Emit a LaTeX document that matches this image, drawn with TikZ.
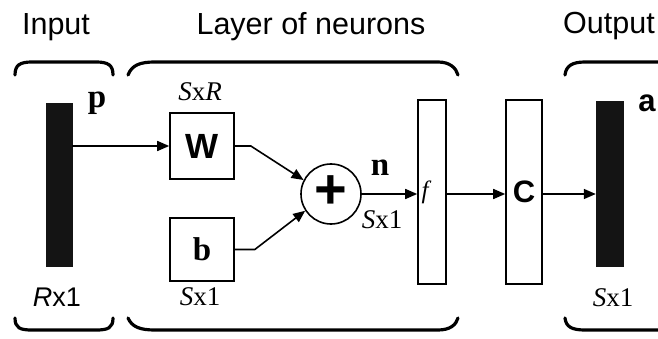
\documentclass[tikz,border=0pt]{standalone}
\usepackage{fontspec}
\setmainfont{Liberation Serif}
\newfontfamily\sansf{Liberation Sans}
\usetikzlibrary{arrows.meta}
\begin{document}
\begin{tikzpicture}[x=1pt,y=-1pt,
  box/.style={draw,line width=1.6pt,inner sep=0pt},
  bar/.style={fill=black!92,draw=black!92,inner sep=0pt},
  conn/.style={line width=1.6pt,-{Triangle[length=12pt,width=10pt]}},
  brk/.style={line width=3.2pt,line cap=round},
  title/.style={font=\sansf\fontsize{30.5}{34}\selectfont,inner sep=0pt},
  dimlab/.style={font=\fontsize{27}{30}\selectfont,inner sep=0pt},
  bold/.style={font=\bfseries\fontsize{33}{35}\selectfont,inner sep=0pt},
  boldsans/.style={font=\sansf\bfseries\fontsize{31}{33}\selectfont,inner sep=0pt}]
\useasboundingbox (0,0) rectangle (658,339);
\clip (0,0) rectangle (658,339);
% titles
\node[title] (tin) at (56,27) {Input};
\node[title] (tlay) at (311,27) {Layer of neurons};
\node[title,anchor=west] (tout) at (563,26) {Output};
% brackets
\draw[brk] (15,75) .. controls (15,65) and (20,62) .. (32,62) -- (96,62) .. controls (108,62) and (113,65) .. (113,75);
\draw[brk] (15,318) .. controls (15,328) and (20,330) .. (32,330) -- (96,330) .. controls (108,330) and (113,328) .. (113,318);
\draw[brk] (128,75) .. controls (132,65) and (140,62) .. (155,62) -- (438,62) .. controls (450,62) and (456,68) .. (458,75);
\draw[brk] (128,318) .. controls (132,327) and (140,330) .. (155,330) -- (438,330) .. controls (450,330) and (456,325) .. (458,318);
\draw[brk] (565,75) .. controls (566,66) and (572,62) .. (585,62) -- (670,62);
\draw[brk] (565,318) .. controls (566,327) and (572,330) .. (585,330) -- (670,330);
% nodes
\node[bar,minimum width=26pt,minimum height=163pt] (pbar) at (59,184.5) {};
\node[box,minimum width=64pt,minimum height=66pt] (W) at (202,146) {};
\node[boldsans,font=\sansf\bfseries\fontsize{35}{36}\selectfont] at (W) {W};
\node[box,minimum width=64pt,minimum height=63pt] (b) at (202,249.5) {};
\node[bold] at (b) {b};
\node[draw,circle,line width=1.6pt,minimum size=60pt,inner sep=0pt] (sum) at (331,194) {};
\node[font=\sansf\bfseries\fontsize{56}{56}\selectfont,inner sep=0pt] at (331,192) {+};
\node[box,minimum width=28pt,minimum height=184pt] (f) at (432,192) {};
\node[box,minimum width=36pt,minimum height=184pt] (C) at (524,192) {};
\node[boldsans] at (C) {C};
\node[bar,minimum width=27pt,minimum height=165pt] (abar) at (609.5,183.5) {};
% labels
\node[bold] (lp) at (97,103) {p};
\node[boldsans] (la) at (647,103) {a};
\node[dimlab] (lsxr) at (200,92) {\textit{S}x\textit{R}};
\node[dimlab] (lsb) at (200,297) {\textit{S}x1};
\node[dimlab,font=\sansf\fontsize{27}{30}\selectfont] (lrx) at (57,297) {\textit{R}x1};
\node[bold] (ln) at (380,168) {n};
\node[dimlab] (lsn) at (382,220) {\textit{S}x1};
\node[dimlab] (lsa) at (613,298) {\textit{S}x1};
\node[font=\itshape\fontsize{25}{27}\selectfont,inner sep=0pt] (lf) at (425,192) {f};
% connectors
\draw[conn] (pbar.east |- W.west) -- (W.west);
\draw[conn] (W.east) -- ++(16,0) -- (sum.153);
\draw[conn] (b.east) -- ++(20,0) -- (sum.213);
\draw[conn] (sum.east) -- (f.west |- sum.east);
\draw[conn] (f.east |- sum.east) -- (C.west |- sum.east);
\draw[conn] (C.east |- sum.east) -- (abar.west |- sum.east);
\end{tikzpicture}
\end{document}
